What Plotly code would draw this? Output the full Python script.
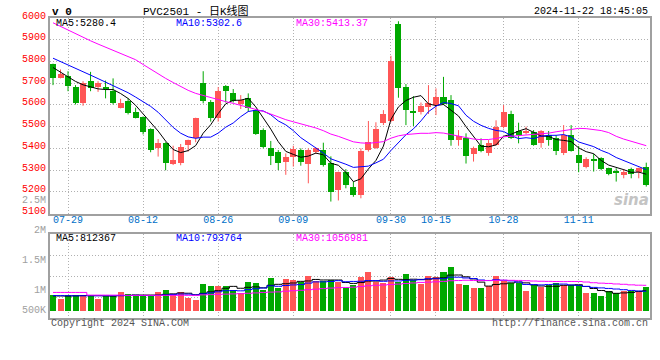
import plotly.graph_objects as go
import pandas as pd

# ---------------- data ----------------
dates = ["07-25", "07-26", "07-29", "07-30", "07-31", "08-01", "08-02", "08-05", "08-06", "08-07",
         "08-08", "08-09", "08-12", "08-13", "08-14", "08-15", "08-16", "08-19", "08-20", "08-21",
         "08-22", "08-23", "08-26", "08-27", "08-28", "08-29", "08-30", "09-02", "09-03", "09-04",
         "09-05", "09-06", "09-09", "09-10", "09-11", "09-12", "09-13", "09-18", "09-19", "09-20",
         "09-23", "09-24", "09-25", "09-26", "09-27", "09-30", "10-08", "10-09", "10-10", "10-11",
         "10-14", "10-15", "10-16", "10-17", "10-18", "10-21", "10-22", "10-23", "10-24", "10-25",
         "10-28", "10-29", "10-30", "10-31", "11-01", "11-04", "11-05", "11-06", "11-07", "11-08",
         "11-11", "11-12", "11-13", "11-14", "11-15", "11-18", "11-19", "11-20", "11-21", "11-22"]

open_ = [5786, 5725, 5734, 5683, 5607, 5709, 5683, 5683, 5666, 5587,
         5620, 5568, 5544, 5489, 5400, 5423, 5330, 5334, 5415, 5446,
         5699, 5614, 5541, 5686, 5656, 5602, 5630, 5576, 5484, 5403,
         5385, 5337, 5362, 5392, 5328, 5382, 5392, 5333, 5209, 5293,
         5222, 5186, 5394, 5400, 5515, 5526, 5971, 5683, 5573, 5568,
         5591, 5599, 5637, 5622, 5438, 5449, 5373, 5415, 5380, 5415,
         5497, 5558, 5478, 5472, 5473, 5426, 5461, 5449, 5377, 5461,
         5369, 5316, 5351, 5354, 5308, 5293, 5278, 5305, 5290, 5316]
high = [5790, 5763, 5755, 5691, 5709, 5752, 5709, 5712, 5722, 5628,
        5630, 5587, 5547, 5492, 5443, 5428, 5412, 5420, 5440, 5541,
        5755, 5622, 5682, 5691, 5673, 5645, 5653, 5579, 5492, 5434,
        5392, 5377, 5412, 5400, 5400, 5404, 5426, 5363, 5293, 5304,
        5247, 5400, 5526, 5520, 5576, 5826, 5985, 5696, 5640, 5611,
        5691, 5676, 5729, 5645, 5484, 5469, 5408, 5446, 5438, 5529,
        5599, 5573, 5518, 5500, 5484, 5484, 5480, 5461, 5507, 5507,
        5411, 5359, 5374, 5359, 5311, 5308, 5305, 5311, 5311, 5334]
low = [5691, 5722, 5663, 5602, 5596, 5663, 5660, 5630, 5602, 5584,
       5556, 5538, 5464, 5382, 5362, 5299, 5323, 5322, 5385, 5428,
       5607, 5523, 5523, 5611, 5611, 5581, 5568, 5462, 5400, 5323,
       5300, 5278, 5316, 5320, 5239, 5374, 5316, 5155, 5160, 5216,
       5177, 5170, 5385, 5397, 5507, 5520, 5633, 5507, 5503, 5556,
       5558, 5553, 5599, 5412, 5412, 5330, 5339, 5382, 5366, 5412,
       5492, 5443, 5423, 5464, 5412, 5403, 5412, 5369, 5369, 5385,
       5290, 5308, 5293, 5299, 5276, 5247, 5262, 5262, 5262, 5224]
close = [5725, 5743, 5688, 5607, 5699, 5676, 5699, 5672, 5607, 5608,
         5562, 5541, 5477, 5392, 5426, 5331, 5347, 5406, 5438, 5541,
         5617, 5541, 5663, 5663, 5620, 5622, 5584, 5466, 5405, 5366,
         5331, 5362, 5397, 5339, 5392, 5400, 5324, 5201, 5293, 5229,
         5186, 5389, 5428, 5489, 5559, 5801, 5676, 5576, 5564, 5596,
         5611, 5637, 5602, 5438, 5457, 5366, 5400, 5388, 5425, 5500,
         5565, 5446, 5462, 5480, 5415, 5480, 5438, 5389, 5461, 5388,
         5334, 5351, 5343, 5305, 5281, 5287, 5293, 5281, 5311, 5232]
volume = [656000, 492000, 656000, 642000, 656000, 642000, 492000, 615000, 588000, 752000,
          697000, 588000, 588000, 588000, 752000, 834000, 690000, 780000, 530000, 451000,
          1107000, 998000, 1030000, 1025000, 834000, 720000, 1190000, 1121000, 834000, 1353000,
          916000, 1312000, 1271000, 1168000, 1440000, 1224000, 1203000, 1271000, 1162000, 929000,
          1039000, 1380000, 1572000, 1162000, 1134000, 1380000, 1190000, 1517000, 1244000, 1093000,
          1435000, 1380000, 1599000, 1804000, 1107000, 1066000, 943000, 943000, 998000, 1435000,
          1203000, 1134000, 1121000, 820000, 1039000, 957000, 1066000, 1121000, 1039000, 1066000,
          1039000, 711000, 711000, 615000, 820000, 711000, 793000, 820000, 820000, 957000]

# moving-average values before enough history is visible
ma5_head = [5772, 5750, 5727, 5708]
ma10_head = [5815, 5800, 5785, 5770, 5753, 5737, 5721, 5705, 5689]
ma30_head = [5978, 5961, 5944, 5927, 5910, 5895, 5880, 5866, 5852, 5837,
             5822, 5808, 5786, 5764, 5743, 5722, 5703, 5683, 5667, 5653,
             5643, 5632, 5622, 5615, 5607, 5598, 5590, 5580, 5570]
vma5_head = [610000, 605000, 600000, 610000]
vma10_head = [620000, 618000, 615000, 612000, 612000, 615000, 615000, 615000, 617000]
vma30_head = [750000, 750000, 750000, 750000, 750000, 640000, 640000, 640000, 640000, 640000,
              630000, 630000, 630000, 630000, 630000, 630000, 630000, 630000, 630000, 630000,
              650000, 660000, 670000, 680000, 690000, 700000, 715000, 730000, 750000]

x_tick_dates = ["07-29", "08-12", "08-26", "09-09", "09-30", "10-15", "10-28", "11-11"]
price_ticks = [6000, 5900, 5800, 5700, 5600, 5500, 5400, 5300, 5200, 5100]
vol_tick_text = ["2.5M", "2M", "1.5M", "1M", "500K"]

title_text = "PVC2501 - 日K线图"
corner_text = "v 0"
timestamp_text = "2024-11-22 18:45:05"
price_ma_labels = ["MA5:5280.4", "MA10:5302.6", "MA30:5413.37"]
vol_ma_labels = ["MA5:812367", "MA10:793764", "MA30:1056981"]
copyright_text = "Copyright 2024 SINA.COM"
url_text = "http://finance.sina.com.cn"

# ---------------- styles ----------------
UP = "#ff5656"
DOWN = "#00a800"
MA_COLORS = ["#000000", "#0000ff", "#ff00ff"]
GRID = "#b0b0b0"
FRAME = "#a0a0a0"
MONO = "Liberation Mono, DejaVu Sans Mono, monospace"

W, H = 660, 360
L, R, T, B = 50, 10, 18, 41.7
PLOT_H = H - T - B
main_bottom_px, vol_top_px, vol_base_px = 213.7, 234.3, 311.0
vol_bottom_px = H - B
VOL_PER_PX = 41000


def px_x(px):
    return (px - L) / (W - L - R)


def px_y(py):
    return (H - B - py) / PLOT_H


def with_head(values, n, head):
    rolled = pd.Series(values, dtype=float).rolling(n).mean().tolist()
    return head + rolled[n - 1:]


ma_price = [with_head(close, 5, ma5_head), with_head(close, 10, ma10_head), with_head(close, 30, ma30_head)]
ma_vol = [with_head(volume, 5, vma5_head), with_head(volume, 10, vma10_head), with_head(volume, 30, vma30_head)]

is_up = [c >= o for o, c in zip(open_, close)]
colors = [UP if u else DOWN for u in is_up]

fig = go.Figure()

# wicks
for flag, col in [(True, UP), (False, DOWN)]:
    xs, ys = [], []
    for d, hi, lo, u in zip(dates, high, low, is_up):
        if u == flag:
            xs += [d, d, None]
            ys += [lo, hi, None]
    fig.add_trace(go.Scatter(x=xs, y=ys, mode="lines", line=dict(color=col, width=1),
                             hoverinfo="skip", xaxis="x", yaxis="y"))

# bodies
fig.add_trace(go.Bar(x=dates, y=[abs(c - o) for o, c in zip(open_, close)],
                     base=[min(o, c) for o, c in zip(open_, close)],
                     width=0.8, marker=dict(color=colors, line=dict(width=0)),
                     xaxis="x", yaxis="y"))

for vals, col in zip(ma_price, MA_COLORS):
    fig.add_trace(go.Scatter(x=dates, y=vals, mode="lines", line=dict(color=col, width=1),
                             xaxis="x", yaxis="y"))

# volume
fig.add_trace(go.Bar(x=dates, y=volume, width=0.8, marker=dict(color=colors, line=dict(width=0)),
                     xaxis="x2", yaxis="y2"))
for vals, col in zip(ma_vol, MA_COLORS):
    fig.add_trace(go.Scatter(x=dates, y=vals, mode="lines", line=dict(color=col, width=1, shape="hvh"),
                             xaxis="x2", yaxis="y2"))

vol_lo = -(vol_bottom_px - vol_base_px) * VOL_PER_PX
vol_hi = (vol_base_px - vol_top_px) * VOL_PER_PX
vol_grid = [vol_lo + (vol_hi - vol_lo) * q for q in (0.25, 0.5, 0.75)]

xcommon = dict(type="category", categoryorder="array", categoryarray=dates,
               range=[-0.4, 79.5], tickvals=x_tick_dates, ticktext=x_tick_dates,
               showgrid=True, gridcolor=GRID, griddash="1px,2px", gridwidth=1,
               showline=True, mirror=True, linecolor=FRAME, linewidth=2, ticks="",
               zeroline=False, fixedrange=True, automargin=False)

fig.update_layout(
    width=W, height=H,
    margin=dict(l=L, r=R, t=T, b=B, pad=0, autoexpand=False),
    paper_bgcolor="white", plot_bgcolor="white",
    showlegend=False, hovermode=False, bargap=0,
    xaxis=dict(xcommon, domain=[0, 1], anchor="y", ticklabelstandoff=-5,
               tickfont=dict(family=MONO, size=10, color="#0070c8")),
    yaxis=dict(domain=[px_y(main_bottom_px), 1], anchor="x", range=[5100, 6000],
               tickvals=price_ticks, ticktext=[str(v) for v in price_ticks],
               tickfont=dict(family=MONO, size=10, color="#ff0000"), ticklabelshift=-3,
               showgrid=True, gridcolor=GRID, griddash="1px,2px", gridwidth=1,
               showline=True, mirror=True, linecolor=FRAME, linewidth=2, ticks="",
               zeroline=False, automargin=False),
    xaxis2=dict(xcommon, domain=[0, 1], anchor="y2", showticklabels=False),
    yaxis2=dict(domain=[0, px_y(vol_top_px)], anchor="x2", range=[vol_lo, vol_hi],
                tickvals=vol_grid, showticklabels=False,
                showgrid=True, gridcolor=GRID, griddash="1px,2px", gridwidth=1,
                showline=True, mirror=True, linecolor=FRAME, linewidth=2, ticks="",
                zeroline=False, automargin=False),
)

ann = []


def add_text(text, x, y, color="#000000", size=10, anchor="left", family=MONO):
    ann.append(dict(text=text, x=px_x(x), y=px_y(y), xref="paper", yref="paper",
                    xanchor=anchor, yanchor="middle", showarrow=False,
                    font=dict(family=family, size=size, color=color)))


add_text("<b>" + corner_text + "</b>", 50, 11.5, size=11)
add_text(title_text, 141, 11, size=11, family="Liberation Mono, Noto Sans CJK SC")
add_text(timestamp_text, 650, 11.5, anchor="right")
for lab, col, xp in zip(price_ma_labels, MA_COLORS, [54, 174, 294]):
    add_text(lab, xp, 24, color=col)
for lab, col, xp in zip(vol_ma_labels, MA_COLORS, [54, 174, 294]):
    add_text(lab, xp, 238.5, color=col)
for i, lab in enumerate(vol_tick_text):
    add_text(lab, 47.5, min(201 + 30 * i, 311), color="#a0a0a0", anchor="right")
add_text(copyright_text, 49, 323.5, color="#555555")
add_text(url_text, 650, 324, color="#555555", anchor="right")
add_text("<b><i>sina</i></b>", 651, 200, color="#c4c4c4", size=15, anchor="right",
         family="DejaVu Sans, sans-serif")

fig.update_layout(annotations=ann)
fig.write_html("out.html", config={"displayModeBar": False},
               post_script="document.body.style.margin='0';")
